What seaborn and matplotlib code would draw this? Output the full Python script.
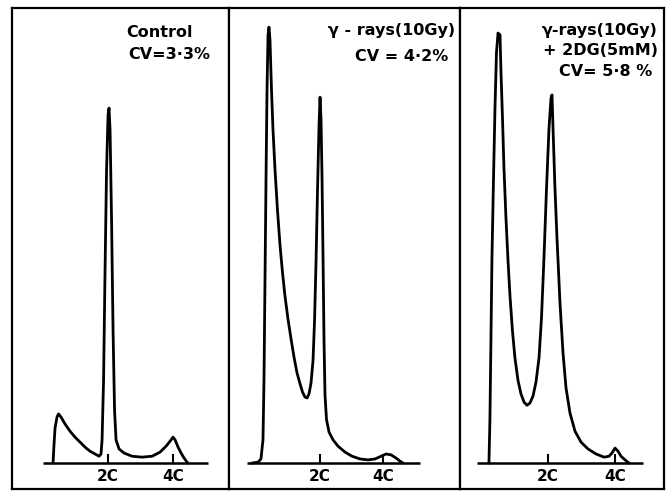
import numpy as np
import pandas as pd
import matplotlib
matplotlib.use("Agg")
import matplotlib.pyplot as plt
import seaborn as sns

# DNA content channel (2C = 100, 4C = 200) and relative cell counts
control_x = [15.4, 16.9, 18.5, 21.5, 23.8, 27.7, 33.8, 41.5, 49.2, 56.9, 64.6, 72.3, 80, 86.2,
             89.2, 90.8, 93.1, 95.4, 97.7, 100, 101.5, 103.1, 105.4, 107.7, 110, 112.3, 116.9,
             124.6, 136.9, 152.3, 167.7, 180, 189.2, 195.4, 200, 203.1, 207.7, 212.3, 216.9,
             221.5, 223.1]
control_y = [0, 4.0, 7.7, 10.1, 10.8, 10.1, 8.6, 7.0, 5.7, 4.6, 3.5, 2.6, 2.0, 1.5,
             2.0, 5.1, 18.2, 42.4, 64.4, 76.5, 78.0, 73.2, 53.4, 29.2, 11.6, 5.1, 3.1,
             2.2, 1.5, 1.3, 1.5, 2.4, 3.7, 4.8, 5.7, 5.1, 3.5, 2.2, 1.1,
             0.2, 0]

gamma_x = [-7.9, 1.6, 6.3, 9.5, 11.1, 12.7, 14.3, 15.9, 17.5, 19.0, 20.6, 23.0, 25.4, 28.6,
           32.5, 36.5, 40.5, 44.4, 49.2, 54.0, 58.7, 63.5, 68.3, 72.2, 76.2, 79.4, 82.5, 85.7,
           88.9, 91.3, 93.7, 96.0, 98.4, 100, 101.6, 103.2, 104.8, 106.3, 107.9, 110.3, 114.3,
           120.6, 128.6, 139.7, 150.8, 163.5, 176.2, 187.3, 196.8, 204.8, 212.7, 220.6, 227.0,
           231.7]
gamma_y = [0, 0.2, 0.9, 5.1, 18.2, 40.2, 62.2, 82.0, 94.1, 95.8, 93.0, 82.0, 73.2, 64.4,
           55.6, 47.9, 41.8, 36.7, 31.6, 27.3, 23.3, 19.8, 17.4, 15.6, 14.5, 14.3, 15.2, 17.6,
           22.6, 31.4, 44.6, 60.0, 74.3, 80.4, 75.4, 62.2, 44.6, 27.0, 14.9, 9.5, 6.8,
           5.1, 3.7, 2.4, 1.5, 0.9, 0.7, 0.9, 1.5, 2.0, 1.8, 1.1, 0.4,
           0]

dg_x = [11.9, 13.4, 14.9, 16.4, 18.7, 20.9, 23.1, 25.4, 28.4, 29.9, 32.1, 34.3, 37.3, 40.3,
        43.3, 47.0, 50.7, 55.2, 59.7, 64.2, 68.7, 73.1, 77.6, 82.1, 86.6, 90.3, 94.0, 97.8,
        101.5, 104.5, 106.0, 107.5, 110.4, 113.4, 117.9, 122.4, 126.9, 132.8, 140.3, 149.3,
        159.7, 171.6, 183.6, 191.0, 195.5, 200.0, 204.5, 209.0, 214.9, 220.9]
dg_y = [0, 9.9, 27.5, 45.1, 62.6, 78.0, 90.1, 94.5, 94.1, 85.7, 75.8, 64.8, 53.8, 44.6,
        36.7, 29.0, 23.1, 18.2, 15.2, 13.4, 12.7, 13.2, 14.7, 17.8, 23.1, 31.9, 45.1, 60.4,
        73.6, 80.2, 80.9, 73.6, 60.4, 49.5, 35.2, 24.2, 16.5, 11.0, 7.0, 4.6,
        3.1, 2.0, 1.3, 1.5, 2.2, 3.3, 2.6, 1.5, 0.7, 0]

labels = [["Control", "CV=3·3%"],
          ["γ - rays(10Gy)", "CV = 4·2%"],
          ["γ-rays(10Gy)", "+ 2DG(5mM)", "CV= 5·8 %"]]
tick_pos = [100, 200]
tick_labels = ["2C", "4C"]
axis_range = [(0, 254), (-16, 259), (-6, 242)]
xlims = [(-47.7, 286), (-44.4, 322), (-31.3, 273.1)]

panels = [(control_x, control_y), (gamma_x, gamma_y), (dg_x, dg_y)]

sns.set_style("white")
plt.rcParams['font.family'] = ['DejaVu Sans']
plt.rcParams['text.color'] = 'black'

fig = plt.figure(figsize=(6.72, 4.98), dpi=100)
lefts = [12, 229, 460]
rights = [229, 460, 664]
text_x = [[0.834, 0.912], [0.978, 0.948], [0.971, 0.971, 0.941]]
text_y = [[0.950, 0.904], [0.954, 0.900], [0.954, 0.911, 0.867]]

for i, (xs, ys) in enumerate(panels):
    ax = fig.add_axes([lefts[i] / 672, 1 - 489 / 498, (rights[i] - lefts[i]) / 672, (489 - 8) / 498])
    df = pd.DataFrame({"dna": xs, "count": ys})
    sns.lineplot(data=df, x="dna", y="count", ax=ax, color="black", lw=2.0,
                 sort=False, estimator=None)
    # baseline and 2C / 4C marks
    ax.hlines(0, axis_range[i][0], axis_range[i][1], color="black", lw=1.8)
    ax.vlines(tick_pos, 0, 1.9, color="black", lw=1.5)
    for tp, tl in zip(tick_pos, tick_labels):
        ax.text(tp, -3.0, tl, ha="center", va="center", fontsize=11, fontweight="bold",
                color="black")
    for j, line in enumerate(labels[i]):
        ax.text(text_x[i][j], text_y[i][j], line, transform=ax.transAxes,
                ha="right", va="center", fontsize=11.5, fontweight="bold", color="black")
    ax.set_xlim(*xlims[i])
    ax.set_ylim(-5.7, 100)
    ax.set_xticks([])
    ax.set_yticks([])
    ax.set_xlabel("")
    ax.set_ylabel("")
    for s in ax.spines.values():
        s.set_color("black")
        s.set_linewidth(1.6)

fig.savefig("out.png", dpi=100)
